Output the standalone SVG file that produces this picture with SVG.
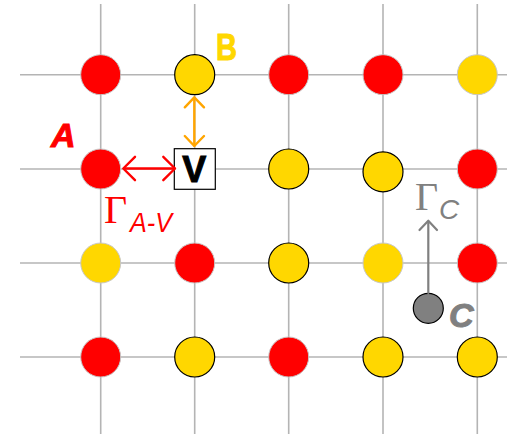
<svg xmlns="http://www.w3.org/2000/svg" width="511" height="436" viewBox="0 0 511 436">
<style>
.grid line{stroke:#b4b4b4;stroke-width:1.6}
.r{fill:#ff0000;stroke:#c8c8c8;stroke-width:1}
.y{fill:#ffd700;stroke:#c8c8c8;stroke-width:1}
.yk{fill:#ffd700;stroke:#000;stroke-width:1.2}
.lbl{font-family:"Liberation Sans",Arial,sans-serif;font-weight:bold}
.gam{font-family:"Liberation Serif","Times New Roman",serif;font-size:40px}
.sub{font-family:"Liberation Sans",Arial,sans-serif;font-style:italic;font-size:28px}
</style>
<rect width="511" height="436" fill="#fff"/>
<g class="grid">
<line x1="20" y1="74.7" x2="507" y2="74.7"/>
<line x1="20" y1="169" x2="507" y2="169"/>
<line x1="20" y1="263" x2="507" y2="263"/>
<line x1="20" y1="357" x2="507" y2="357"/>
<line x1="100.7" y1="4" x2="100.7" y2="434"/>
<line x1="194.7" y1="4" x2="194.7" y2="434"/>
<line x1="288.7" y1="4" x2="288.7" y2="434"/>
<line x1="383" y1="4" x2="383" y2="434"/>
<line x1="477.3" y1="4" x2="477.3" y2="434"/>
</g>
<g id="row1">
<circle id="n11" class="r" cx="100.7" cy="74.7" r="20"/>
<circle id="n12" class="yk" cx="194.7" cy="74.7" r="20"/>
<circle id="n13" class="r" cx="288.7" cy="74.7" r="20"/>
<circle id="n14" class="r" cx="383" cy="74.7" r="20"/>
<circle id="n15" class="y" cx="477.3" cy="74.7" r="20"/>
</g>
<g id="row2">
<circle id="n21" class="r" cx="100.7" cy="169" r="20"/>
<circle id="n23" class="yk" cx="288.7" cy="169" r="20"/>
<circle id="n24" class="yk" cx="383" cy="171.8" r="20"/>
<circle id="n25" class="r" cx="477.3" cy="169" r="20"/>
</g>
<g id="row3">
<circle id="n31" class="y" cx="100.7" cy="263" r="20"/>
<circle id="n32" class="r" cx="194.7" cy="263" r="20"/>
<circle id="n33" class="yk" cx="288.7" cy="263" r="20"/>
<circle id="n34" class="y" cx="383" cy="263" r="20"/>
<circle id="n35" class="r" cx="477.3" cy="263" r="20"/>
</g>
<g id="row4">
<circle id="n41" class="r" cx="100.7" cy="357" r="20"/>
<circle id="n42" class="yk" cx="194.7" cy="357" r="20"/>
<circle id="n43" class="r" cx="288.7" cy="357" r="20"/>
<circle id="n44" class="yk" cx="383" cy="357" r="20"/>
<circle id="n45" class="yk" cx="477.3" cy="357" r="20"/>
</g>
<g id="V">
<rect x="174.3" y="148.7" width="41" height="40.6" fill="#fff" stroke="#000" stroke-width="1.2"/>
<text class="lbl" x="194.3" y="181.5" font-size="36" text-anchor="middle" fill="#000" stroke="#000" stroke-width="1">V</text>
</g>
<g id="C">
<circle cx="428.3" cy="308.3" r="15" fill="#808080" stroke="#000" stroke-width="1.2"/>
<text class="lbl" x="449" y="327" font-size="34" font-style="italic" fill="#808080" stroke="#808080" stroke-width="1">C</text>
</g>
<g id="labels">
<text class="lbl" x="51" y="147" font-size="34" font-style="italic" fill="#ff0000" stroke="#ff0000" stroke-width="1">A</text>
<text class="lbl" x="216" y="60" font-size="37" fill="#ffd700" stroke="#ffd700" stroke-width="1" textLength="21" lengthAdjust="spacingAndGlyphs">B</text>
<text class="gam" x="104" y="223" fill="#ff0000">Γ</text>
<text class="sub" x="130" y="232" fill="#ff0000" textLength="42" lengthAdjust="spacingAndGlyphs">A-V</text>
<text class="gam" x="415" y="210" fill="#808080">Γ</text>
<text class="sub" x="439" y="219" fill="#808080">C</text>
</g>
<g id="connectors" fill="none" stroke-linecap="round" stroke-linejoin="round">
<g stroke="#ff0000" stroke-width="2.4">
<line x1="124" y1="168.5" x2="174.5" y2="168.5"/>
<polyline points="135,156.8 123.3,168.5 135,180.2"/>
<polyline points="163.3,156.8 175,168.5 163.3,180.2"/>
</g>
<g stroke="#ffa500" stroke-width="2.4">
<line x1="194.3" y1="98" x2="194.3" y2="145.5"/>
<polyline points="184.8,107.3 194.3,97.3 204,107.3"/>
<polyline points="184.8,136 194.3,146 204,136"/>
</g>
<g stroke="#808080" stroke-width="2.2">
<line x1="428.3" y1="293" x2="428.3" y2="221.5"/>
<polyline points="419.5,230 428.3,220.7 437,230"/>
</g>
</g>
</svg>
